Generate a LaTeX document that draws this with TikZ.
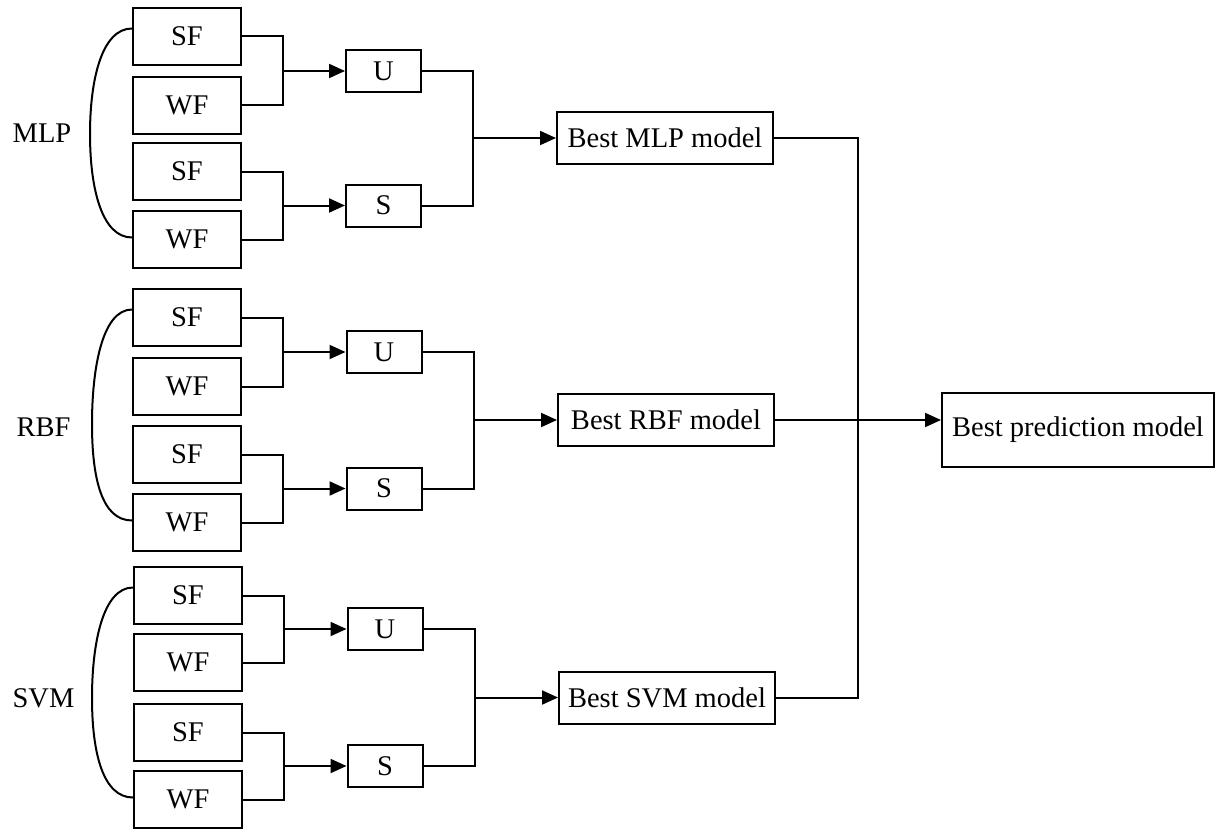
\documentclass[tikz,border=0pt]{standalone}
\usepackage{fontspec}
\setmainfont{Liberation Serif}
\usetikzlibrary{arrows.meta}
\begin{document}
\begin{tikzpicture}[x=1pt,y=-1pt,
  every node/.style={font=\fontsize{28.5}{31}\selectfont},
  inbox/.style={draw,line width=2pt,minimum width=108pt,minimum height=57pt,inner sep=0pt},
  usbox/.style={draw,line width=2pt,minimum width=75pt,minimum height=42pt,inner sep=0pt},
  bestbox/.style={draw,line width=2pt,minimum width=216pt,minimum height=52pt,inner sep=0pt},
  predbox/.style={draw,line width=2pt,minimum width=272pt,minimum height=74pt,inner sep=0pt},
  lbl/.style={inner sep=0pt},
  conn/.style={line width=2pt},
  arr/.style={line width=2pt,-{Triangle[length=16pt,width=14pt]}}
]
\useasboundingbox (0,0) rectangle (1217,832);

% ---- MLP group ----
\node[inbox] (m1) at (187,36.5) {SF};
\node[inbox] (m2) at (187,105.5) {WF};
\node[inbox] (m3) at (187,171.5) {SF};
\node[inbox] (m4) at (187,239.5) {WF};
\coordinate (mj1) at (283,71);
\coordinate (mj2) at (283,205.5);
\node[usbox] (mu) at (383.5,71) {U};
\node[usbox] (ms) at (383.5,205.5) {S};
\coordinate (mj3) at (473,138);
\node[bestbox] (mb) at (665,138) {Best MLP model};
\node[lbl] (ml) at (42,133) {MLP};
\coordinate (mc) at (90,134);

% ---- RBF group ----
\node[inbox] (r1) at (187,317.5) {SF};
\node[inbox] (r2) at (187,386.5) {WF};
\node[inbox] (r3) at (187,454.5) {SF};
\node[inbox] (r4) at (187,522.5) {WF};
\coordinate (rj1) at (283,352);
\coordinate (rj2) at (283,488.5);
\node[usbox] (ru) at (384,352) {U};
\node[usbox] (rs) at (384,488.5) {S};
\coordinate (rj3) at (474,420);
\node[bestbox] (rb) at (666,420) {Best RBF model};
\node[lbl] (rl) at (43.5,427) {RBF};
\coordinate (rc) at (92,424);

% ---- SVM group ----
\node[inbox] (s1) at (188,595.5) {SF};
\node[inbox] (s2) at (188,662.5) {WF};
\node[inbox] (s3) at (188,732.5) {SF};
\node[inbox] (s4) at (188,799.5) {WF};
\coordinate (sj1) at (284,629);
\coordinate (sj2) at (284,766);
\node[usbox] (su) at (385,629) {U};
\node[usbox] (ss) at (385,766) {S};
\coordinate (sj3) at (475,697.5);
\node[bestbox] (sb) at (667,697.5) {Best SVM model};
\node[lbl] (sl) at (43.5,698) {SVM};
\coordinate (sc) at (92,698);

% ---- prediction ----
\node[predbox] (pred) at (1078,430) {Best prediction model};
\coordinate (vtop) at (858,0);

% ---- connectors: first stage ----
\foreach \a/\b/\j/\t in {m1/m2/mj1/mu, m3/m4/mj2/ms, r1/r2/rj1/ru, r3/r4/rj2/rs, s1/s2/sj1/su, s3/s4/sj2/ss}{
  \draw[conn] (\a.east) -| (\j) |- (\b.east);
  \draw[arr] (\j) -- (\t.west);
}
% ---- second stage ----
\foreach \u/\s/\j/\b in {mu/ms/mj3/mb, ru/rs/rj3/rb, su/ss/sj3/sb}{
  \draw[conn] (\u.east) -| (\j) |- (\s.east);
  \draw[arr] (\j) -- (\b.west);
}
% ---- final stage ----
\draw[conn] (mb.east) -| (vtop |- sb.east) -- (sb.east);
\draw[arr] (rb.east) -- (rb.east -| pred.west);

% ---- braces ----
\foreach \a/\b/\c in {m1/m4/mc, r1/r4/rc, s1/s4/sc}{
  \draw[conn] ([yshift=8pt]\a.west) .. controls +(-30,0) and +(0,-55) .. (\c)
     .. controls +(0,55) and +(-30,0) .. ([yshift=2pt]\b.west);
}
\end{tikzpicture}
\end{document}
